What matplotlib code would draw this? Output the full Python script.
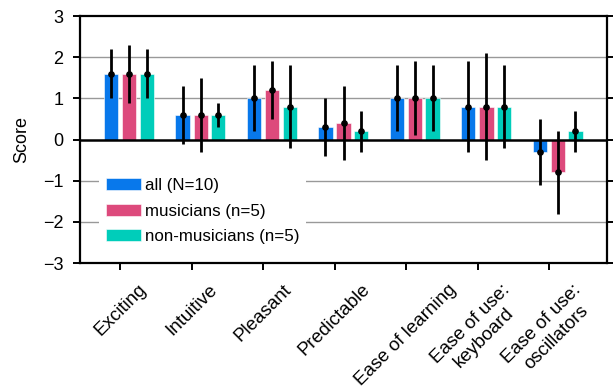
import numpy as np
import matplotlib.pyplot as plt

plt.rcParams['font.family'] = ['Liberation Sans', 'DejaVu Sans']

categories = ["Exciting", "Intuitive", "Pleasant", "Predictable", "Ease of learning",
              "Ease of use:\nkeyboard", "Ease of use:\noscillators"]
groups = ["all (N=10)", "musicians (n=5)", "non-musicians (n=5)"]
colors = ["#0878EB", "#DD4A7C", "#00CDBA"]

# mean scores
all_mean = [1.6, 0.6, 1.0, 0.3, 1.0, 0.8, -0.3]
mus_mean = [1.6, 0.6, 1.2, 0.4, 1.0, 0.8, -0.8]
non_mean = [1.6, 0.6, 0.8, 0.2, 1.0, 0.8, 0.2]

# error bar half-lengths
all_err = [0.6, 0.7, 0.8, 0.7, 0.8, 1.1, 0.8]
mus_err = [0.7, 0.9, 0.7, 0.9, 0.9, 1.3, 1.0]
non_err = [0.6, 0.3, 1.0, 0.5, 0.8, 1.0, 0.5]

means = [all_mean, mus_mean, non_mean]
errs = [all_err, mus_err, non_err]

x = np.arange(len(categories))
offsets = [-0.255, 0.0, 0.245]
width = 0.2

fig = plt.figure(figsize=(6.13, 3.92), dpi=100)
ax = fig.add_axes([0.1305, 0.329, 0.86, 0.63])

for yv in [-2, -1, 1, 2]:
    ax.axhline(yv, color="#999999", lw=1.0, zorder=0)
ax.axhline(0, color="black", lw=1.8, zorder=3)

for m, e, c, lab, off in zip(means, errs, colors, groups, offsets):
    ax.bar(x + off, m, width=width, color=c, edgecolor="white", linewidth=0.4,
           label=lab, zorder=2)
    ax.errorbar(x + off, m, yerr=e, fmt="o", color="black", ms=3.8, elinewidth=2,
                capsize=0, zorder=4)

ax.set_xlim(-0.69, 6.69)
ax.set_ylim(-3, 3)
ax.set_yticks(range(-3, 4))
ax.set_yticklabels([str(v).replace("-", "\u2212") for v in range(-3, 4)])
ax.set_xticks(x - 0.125)
ax.set_xticklabels(categories, rotation=45, ha="center", fontsize=13.5,
                   multialignment="center")
ax.set_ylabel("Score", fontsize=13, labelpad=9)

for s in ax.spines.values():
    s.set_linewidth(1.6)
ax.tick_params(axis="y", which="both", left=True, right=True, direction="out",
               length=5, width=1.4, labelsize=13, pad=7)
ax.tick_params(axis="x", direction="out", length=5, width=1.4, pad=8)

leg = ax.legend(loc="lower left", bbox_to_anchor=(0.02, 0.015), fontsize=12.2,
                frameon=True, facecolor="white", edgecolor="none", framealpha=1,
                handlelength=2.1, handleheight=0.7, handletextpad=0.2,
                labelspacing=0.62, borderpad=0.4, fancybox=False)
leg.set_zorder(5)

fig.savefig("out.png", dpi=100)
